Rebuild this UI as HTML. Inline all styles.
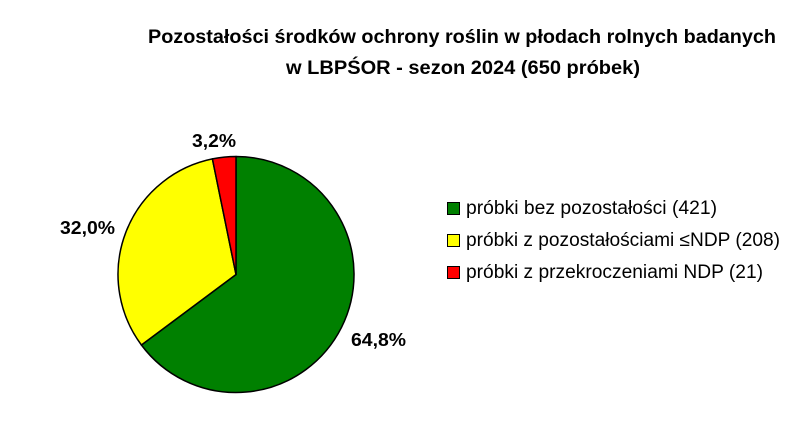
<!DOCTYPE html>
<html><head><meta charset="utf-8"><style>body{margin:0;background:#fff}svg{display:block}</style></head>
<body>
<svg width="800" height="445" xmlns="http://www.w3.org/2000/svg" font-family="'Liberation Sans', sans-serif">
<text x="148" y="43" font-size="19.5" font-weight="bold" textLength="628" lengthAdjust="spacingAndGlyphs">Pozostałości środków ochrony roślin w płodach rolnych badanych</text>
<text x="286" y="74" font-size="19.5" font-weight="bold" textLength="354" lengthAdjust="spacingAndGlyphs">w LBPŚOR - sezon 2024 (650 próbek)</text>
<g stroke="#000" stroke-width="1.5" stroke-linejoin="round">
<path d="M236,274.5 L236,156.5 A118,118 0 1 1 141.4,345 Z" fill="#008000"/>
<path d="M236,274.5 L141.4,345 A118,118 0 0 1 212.4,158.9 Z" fill="#ffff00"/>
<path d="M236,274.5 L212.4,158.9 A118,118 0 0 1 236,156.5 Z" fill="#ff0000"/>
</g>
<g font-size="18.5" font-weight="bold">
<text x="192" y="147" textLength="44" lengthAdjust="spacingAndGlyphs">3,2%</text>
<text x="60" y="234" textLength="55" lengthAdjust="spacingAndGlyphs">32,0%</text>
<text x="351" y="346" textLength="55" lengthAdjust="spacingAndGlyphs">64,8%</text>
</g>
<g stroke="#000" stroke-width="1">
<rect x="447.5" y="202.5" width="12" height="12" fill="#008000"/>
<rect x="447.5" y="234.5" width="12" height="12" fill="#ffff00"/>
<rect x="447.5" y="266.5" width="12" height="12" fill="#ff0000"/>
</g>
<g font-size="19">
<text x="466" y="214" textLength="251" lengthAdjust="spacingAndGlyphs">próbki bez pozostałości (421)</text>
<text x="466" y="246" textLength="314" lengthAdjust="spacingAndGlyphs">próbki z pozostałościami ≤NDP (208)</text>
<text x="466" y="278" textLength="297" lengthAdjust="spacingAndGlyphs">próbki z przekroczeniami NDP (21)</text>
</g>
</svg>
</body></html>
